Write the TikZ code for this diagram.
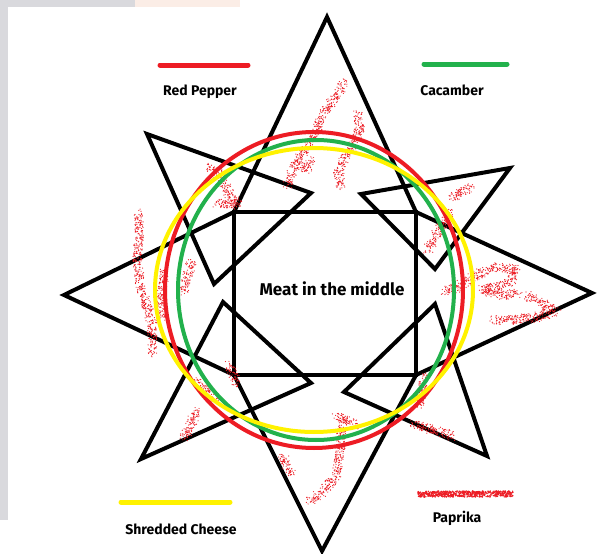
\documentclass[tikz,border=0pt]{standalone}
\usepackage{fontspec}
\setmainfont{Fira Sans}
\definecolor{pred}{HTML}{ED1C24}
\definecolor{pgreen}{HTML}{22B14C}
\definecolor{pyellow}{HTML}{FFF200}
\definecolor{bggray}{HTML}{D9D9DD}
\definecolor{bgpink}{HTML}{FBEDE6}
\begin{document}
\begin{tikzpicture}[x=1pt,y=-1pt,
  starline/.style={draw=black,line width=4pt,line join=miter},
  ring/.style={line width=4pt},
  legendline/.style={line width=5pt,line cap=round},
  lbl/.style={font=\fontsize{14}{16}\selectfont\bfseries,text=black,inner sep=0pt},
  meat/.style={font=\fontsize{17}{19}\selectfont\bfseries,text=black,inner sep=0pt}]
\useasboundingbox (0,0) rectangle (598,554);
\fill[white] (0,0) rectangle (598,554);
\fill[bggray] (0,0) rectangle (8,520);
\fill[bggray] (0,0) rectangle (135,7);
\fill[bgpink] (135,0) rectangle (240,7);
\pgfmathsetseed{7}

% coordinates
\coordinate (T) at (327,17);
\coordinate (R) at (592,293);
\coordinate (B) at (322,551);
\coordinate (L) at (64,295);
\coordinate (sTL) at (234,212);
\coordinate (sTR) at (416,212);
\coordinate (sBR) at (416,375);
\coordinate (sBL) at (234,375);

% four-point star and square
\draw[starline] (T) -- (sTR) -- (R) -- (sBR) -- (B) -- (sBL) -- (L) -- (sTL) -- cycle;
\draw[starline] (sTL) rectangle (sBR);
% corner triangles
\draw[starline] (147,134) -- (311,193) -- (214,284) -- cycle;
\draw[starline] (510,168) -- (361,194) -- (435,269) -- cycle;
\draw[starline] (141,459) -- (223,302) -- (311,383) -- cycle;
\draw[starline] (487,456) -- (435,304) -- (344,392) -- cycle;

% paprika sprinkles
\foreach \xa/\ya/\xb/\yb in {
  343/82/338/95, 338/95/328/106, 328/106/321/118, 321/118/315/132, 315/132/308/146,
  308/146/298/160, 298/160/290/178, 290/178/287/186,
  357/113/360/128, 360/128/353/147, 353/147/343/160, 343/160/338/174, 338/174/342/188,
  300/165/306/170, 306/170/312/160,
  210/166/221/178, 221/178/230/195, 230/195/238/206, 215/202/228/205, 228/205/240/200,
  138/213/140/233, 140/233/137/257, 137/257/140/283, 140/283/147/307, 147/307/152/325, 152/325/153/353,
  192/262/187/277, 187/277/183/292,
  165/272/162/290, 162/290/161/305, 161/305/163/318,
  229/364/237/385, 198/380/208/390, 208/390/216/398, 183/440/190/425, 190/425/198/408,
  282/455/291/475, 309/502/322/492, 322/492/336/477, 336/477/340/450, 340/450/343/418,
  336/415/355/425,
  412/424/432/430, 432/430/454/436, 420/406/424/376,
  443/293/455/288, 455/288/477/274, 477/274/497/267, 497/267/517/270, 517/270/510/283,
  510/283/482/290, 482/290/503/295, 503/295/520/293,
  527/295/545/305, 545/305/557/312,
  493/320/513/320, 513/320/537/317, 537/317/553/312,
  450/198/473/187, 427/251/439/230, 439/230/450/212}{
  \pgfmathtruncatemacro\nn{max(6,veclen(\xb-\xa,\yb-\ya)*3.5)}
  \foreach \i in {1,...,\nn}{
    \pgfmathsetmacro\tt{rnd}
    \fill[pred] ({\xa+(\xb-\xa)*\tt+rand*4.5},{\ya+(\yb-\ya)*\tt+rand*4.5}) circle[radius=0.6pt];
  }
}

% rings
\draw[ring,pred] (314,290) ellipse [x radius=149pt, y radius=158pt];
\draw[ring,pgreen] (316,290) ellipse [x radius=138pt, y radius=150pt];
\draw[ring,pyellow] (314,290) ellipse [x radius=159pt, y radius=142pt];

% legend
\draw[legendline,pred] (160,65) -- (248,65);
\draw[legendline,pgreen] (424,64) -- (507,64);
\draw[legendline,pyellow] (121,502) -- (230,502);
\foreach \i in {1,...,600}{
  \pgfmathsetmacro\tt{rnd}
  \fill[pred] ({418+95*\tt},{494+rand*3}) circle[radius=0.8pt];
}

\node[lbl] (rp) at (200,92) {Red Pepper};
\node[lbl] (cu) at (452,90) {Cacamber};
\node[lbl] (sc) at (181,529) {Shredded Cheese};
\node[lbl] (pa) at (457,518) {Paprika};
\node[meat] (mt) at (332,289) {Meat in the middle};
\end{tikzpicture}
\end{document}
